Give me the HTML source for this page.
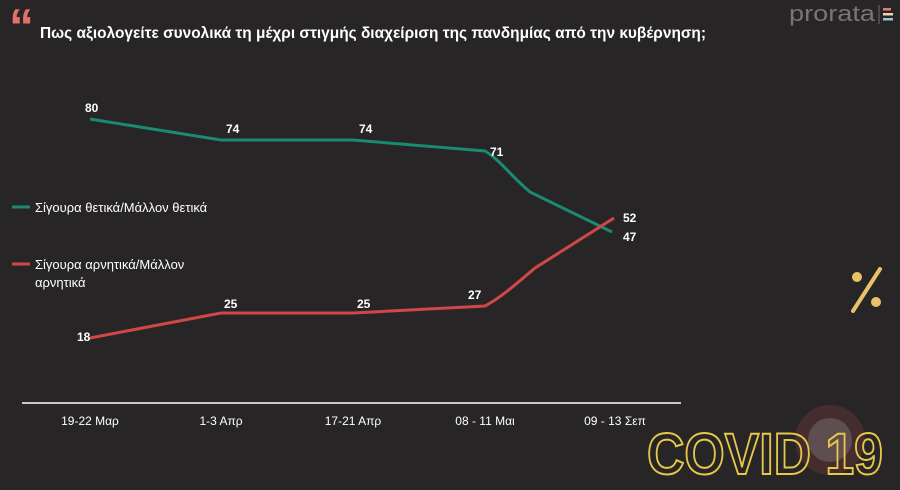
<!DOCTYPE html>
<html><head><meta charset="utf-8"><style>
html,body{margin:0;padding:0;background:#272526;}
svg{display:block}
text{font-family:"Liberation Sans","DejaVu Sans",sans-serif;}
</style></head><body>
<svg width="900" height="490" viewBox="0 0 900 490" xmlns="http://www.w3.org/2000/svg">
<rect width="900" height="490" fill="#272526"/>
<text x="9" y="44" font-size="50" font-weight="bold" fill="#e0726c" font-family="Liberation Serif,serif">“</text>
<text x="40" y="38" font-size="15.5" font-weight="bold" fill="#ffffff" textLength="666" lengthAdjust="spacingAndGlyphs">Πως αξιολογείτε συνολικά τη μέχρι στιγμής διαχείριση της πανδημίας από την κυβέρνηση;</text>
<text x="789" y="21" font-size="22" fill="#777576" textLength="86" lengthAdjust="spacingAndGlyphs">prorata</text>
<line x1="879" y1="5" x2="879" y2="24" stroke="#6e6c6d" stroke-width="1"/>
<rect x="883" y="8" width="8" height="2.5" fill="#e27a7a"/>
<rect x="883" y="13" width="10" height="2.5" fill="#e9d8a6"/>
<rect x="883" y="18" width="10" height="2.5" fill="#9fc4d8"/>
<path d="M90,119 L221,140 L353,140 L485,151 C500,160 510,175 530,192 L612,232" fill="none" stroke="#1a8a72" stroke-width="3"/>
<path d="M90,338 L221,313 L353,313 L485,306 C500,298 515,285 535,268 L614,218" fill="none" stroke="#d04748" stroke-width="3"/>
<g font-size="12" font-weight="bold" fill="#fff">
<text x="85" y="112">80</text><text x="226" y="133">74</text><text x="359" y="133">74</text>
<text x="490" y="156">71</text><text x="623" y="222">52</text><text x="623" y="241">47</text>
<text x="77" y="341">18</text><text x="224" y="308">25</text><text x="357" y="308">25</text><text x="468" y="299">27</text>
</g>
<line x1="12" y1="207" x2="30" y2="207" stroke="#1a8a72" stroke-width="3"/>
<text x="35" y="212" font-size="13" fill="#fff">Σίγουρα θετικά/Μάλλον θετικά</text>
<line x1="12" y1="264" x2="30" y2="264" stroke="#d04748" stroke-width="3"/>
<text x="35" y="269" font-size="13" fill="#fff">Σίγουρα αρνητικά/Μάλλον</text>
<text x="35" y="287" font-size="13" fill="#fff">αρνητικά</text>
<line x1="22" y1="403" x2="681" y2="403" stroke="#fff" stroke-width="1.5"/>
<g font-size="12" fill="#fff" text-anchor="middle">
<text x="90" y="425">19-22 Μαρ</text><text x="221" y="425">1-3 Απρ</text><text x="353" y="425">17-21 Απρ</text>
<text x="485" y="425">08 - 11 Μαι</text><text x="615" y="425">09 - 13 Σεπ</text>
</g>
<line x1="853" y1="311" x2="880" y2="269" stroke="#e8c26a" stroke-width="4" stroke-linecap="round"/>
<circle cx="857" cy="277" r="5" fill="#e8c26a"/><circle cx="876" cy="302" r="5" fill="#e8c26a"/>
<circle cx="830" cy="440" r="35" fill="#5a3434" opacity="0.6"/>
<circle cx="830" cy="440" r="22" fill="#7a7070" opacity="0.5"/>
<text x="765" y="474" font-size="58" font-weight="bold" fill="none" stroke="#e8c84a" stroke-width="2" text-anchor="middle" textLength="236" lengthAdjust="spacingAndGlyphs">COVID 19</text>
</svg>
</body></html>
